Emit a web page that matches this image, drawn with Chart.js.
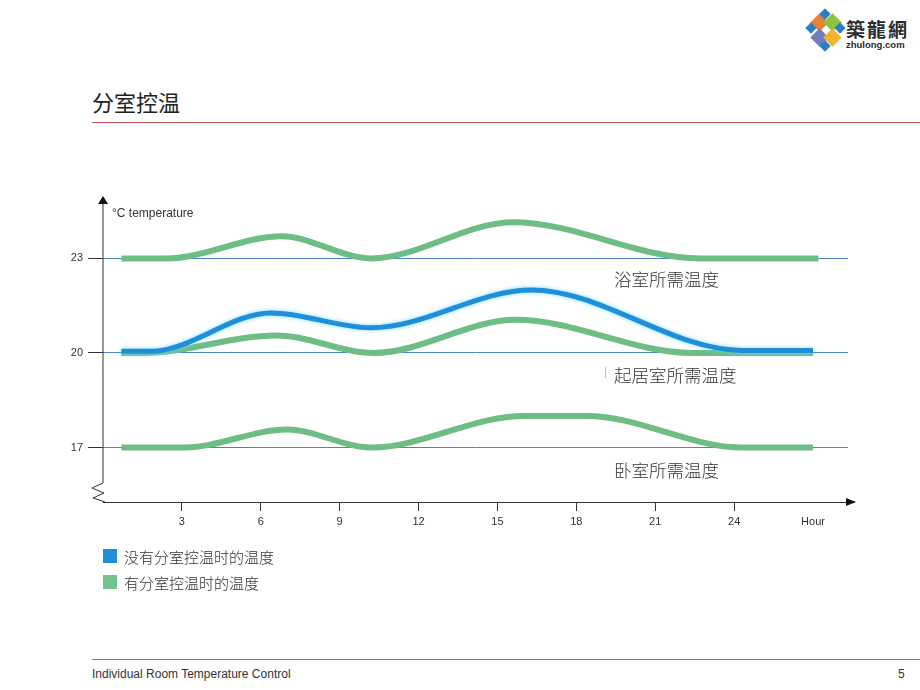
<!DOCTYPE html>
<html>
<head>
<meta charset="utf-8">
<script src="https://cdn.jsdelivr.net/npm/chart.js@4"></script>
<style>
  body { margin: 0; background: #fff; width: 920px; height: 690px; position: relative; overflow: hidden;
         font-family: "Liberation Sans", Arial, sans-serif; color: #333; }
  .abs { position: absolute; white-space: nowrap; }
  .cjk { font-family: "Noto Sans CJK SC", sans-serif; }
  .note { font-size: 17.5px; color: #333; font-weight: 300; line-height: 20px; }
  #chart { position: absolute; left: 0; top: 180px; }
  .rule { position: absolute; left: 92px; right: 0; height: 1px; }
  .sw { position: absolute; width: 14px; height: 14px; left: 103px; }
  .logo-tile { position: absolute; width: 13px; height: 13px; transform: rotate(45deg); }
</style>
</head>
<body>
<!-- logo -->
<div class="abs" style="left:806px;top:12px;width:40px;height:42px;">
  <div class="logo-tile" style="left:7px;top:4px;background:#e9803a;"></div>
  <div class="logo-tile" style="left:20px;top:4px;background:#8cc63f;"></div>
  <div class="logo-tile" style="left:7px;top:19px;background:#6f7fc4;"></div>
  <div class="logo-tile" style="left:20px;top:19px;background:#f2b233;"></div>
  <div class="logo-tile" style="left:1px;top:12px;width:8px;height:8px;background:#2c7fc4;"></div>
  <div class="logo-tile" style="left:30px;top:12px;width:8px;height:8px;background:#2c7fc4;"></div>
  <div class="logo-tile" style="left:15px;top:-2px;width:8px;height:8px;background:#2c7fc4;"></div>
  <div class="logo-tile" style="left:15px;top:30px;width:8px;height:8px;background:#2c7fc4;"></div>
</div>
<div class="abs cjk" style="left:846px;top:15px;font-size:19px;font-weight:bold;color:#2b2b2b;letter-spacing:2px;">築龍網</div>
<div class="abs" style="left:846px;top:39px;font-size:9.5px;font-weight:bold;color:#2b2b2b;">zhulong.com</div>

<!-- title -->
<div class="abs cjk" style="left:92px;top:85px;font-size:22px;color:#222;">分室控温</div>
<div class="rule" style="top:122px;background:#c0504d;"></div>

<canvas id="chart" width="920" height="370"></canvas>

<div class="abs" style="left:112px;top:206px;font-size:12px;color:#333;">°C temperature</div>
<div class="abs cjk note" style="left:614px;top:269px;">浴室所需温度</div>
<div class="abs" style="left:605px;top:367px;width:1px;height:11px;background:#bbb;"></div>
<div class="abs cjk note" style="left:614px;top:365px;">起居室所需温度</div>
<div class="abs cjk note" style="left:614px;top:460px;">卧室所需温度</div>

<!-- legend -->
<div class="sw" style="top:549px;background:#1e8fd8;"></div>
<div class="abs cjk" style="left:124px;top:546px;font-size:15px;color:#333;font-weight:300;">没有分室控温时的温度</div>
<div class="sw" style="top:575px;background:#72c48c;"></div>
<div class="abs cjk" style="left:124px;top:572px;font-size:15px;color:#333;font-weight:300;">有分室控温时的温度</div>

<!-- footer -->
<div class="rule" style="top:659px;background:#d9534f;"></div>
<div class="abs" style="left:92px;top:667px;font-size:12px;color:#333;">Individual Room Temperature Control</div>
<div class="abs" style="left:898px;top:667px;font-size:12px;color:#333;">5</div>

<script>
  // ---------- data ----------
  const xTickHours = [3, 6, 9, 12, 15, 18, 21, 24, 27];
  const hourLabelAt = 27;
  const yTickTemps = [17, 20, 23];

  // without room control (blue)
  const noControlHours = [0.7, 1.8, 6.4, 10.2, 16.3, 24.3, 27.0];
  const noControlTemps = [20.05, 20.05, 21.27, 20.8, 22.0, 20.08, 20.08];

  // with room control (green), one line per room
  const bathHours = [0.7, 2.4, 6.8, 10.2, 15.6, 22.7, 27.2];
  const bathTemps = [23, 23, 23.7, 23, 24.15, 23, 23];
  const livingHours = [0.7, 1.5, 6.6, 10.3, 15.7, 22.4, 27.0];
  const livingTemps = [20, 20, 20.55, 20, 21.05, 20, 20];
  const bedHours = [0.7, 3.1, 7.0, 10.2, 16.0, 18.4, 24.3, 27.0];
  const bedTemps = [17, 17, 17.57, 17, 18.0, 18.0, 17, 17];

  const BLUE = '#1e8fd8';
  const GREEN = '#6dbd85';
  const AXIS = '#333';

  const pts = (xs, ys) => xs.map((x, i) => ({ x, y: ys[i] }));

  function line(label, xs, ys, color, width) {
    return {
      label,
      data: pts(xs, ys),
      borderColor: color,
      borderWidth: width,
      pointRadius: 0,
      fill: false,
      cubicInterpolationMode: 'monotone',
      borderCapStyle: 'butt',
    };
  }

  // y axis with break + arrow heads, placed from the scales
  const axisDecor = {
    id: 'axisDecor',
    beforeDatasetDraw(chart, args) {
      if (args.index === 0) {
        chart.ctx.save();
        chart.ctx.shadowColor = 'rgba(110,215,255,0.9)';
        chart.ctx.shadowBlur = 4;
      }
    },
    afterDatasetDraw(chart, args) {
      if (args.index === 0) chart.ctx.restore();
    },
    afterDraw(chart) {
      const { ctx, scales: { x, y } } = chart;
      const x0 = x.getPixelForValue(0);
      const top = y.top;
      const bot = y.bottom;
      ctx.save();
      ctx.strokeStyle = AXIS;
      ctx.fillStyle = '#111';
      ctx.lineWidth = 1;
      ctx.beginPath();
      ctx.moveTo(x0, top + 4);
      ctx.lineTo(x0, bot - 19);
      ctx.lineTo(x0 - 11, bot - 14);
      ctx.lineTo(x0 + 1, bot - 9);
      ctx.lineTo(x0 - 10, bot - 4);
      ctx.lineTo(x0 + 2, bot);
      ctx.stroke();
      // top arrow
      ctx.beginPath();
      ctx.moveTo(x0, top);
      ctx.lineTo(x0 - 5, top + 8);
      ctx.lineTo(x0 + 5, top + 8);
      ctx.closePath();
      ctx.fill();
      // right arrow
      const xr = x.right;
      ctx.beginPath();
      ctx.moveTo(xr - 2, bot);
      ctx.lineTo(xr + 7, bot);
      ctx.stroke();
      ctx.beginPath();
      ctx.moveTo(xr + 8, bot);
      ctx.lineTo(xr - 2, bot - 4);
      ctx.lineTo(xr - 2, bot + 4);
      ctx.closePath();
      ctx.fill();
      ctx.restore();
    },
  };

  Chart.defaults.font.family = '"Liberation Sans", Arial, sans-serif';
  Chart.defaults.color = AXIS;

  new Chart(document.getElementById('chart'), {
    type: 'line',
    data: {
      datasets: [
        line('没有分室控温时的温度', noControlHours, noControlTemps, BLUE, 5),
        line('浴室', bathHours, bathTemps, GREEN, 6),
        line('起居室', livingHours, livingTemps, GREEN, 6),
        line('卧室', bedHours, bedTemps, GREEN, 6),
      ],
    },
    options: {
      responsive: false,
      animation: false,
      devicePixelRatio: 1,
      layout: { padding: { left: 40, right: 72, top: 16, bottom: 18 } },
      plugins: { legend: { display: false }, tooltip: { enabled: false } },
      scales: {
        x: {
          type: 'linear',
          min: 0,
          max: 28.33,
          afterBuildTicks: (s) => { s.ticks = xTickHours.map(v => ({ value: v })); },
          afterFit: (s) => { s.height = 30; },
          ticks: {
            font: { size: 11 },
            padding: 4,
            maxRotation: 0,
            callback: (v) => (v === hourLabelAt ? 'Hour' : String(v)),
          },
          grid: {
            drawOnChartArea: false,
            drawTicks: true,
            tickLength: 9,
            tickColor: (c) => (c.tick && c.tick.value === hourLabelAt ? 'rgba(0,0,0,0)' : AXIS),
          },
          border: { display: true, color: AXIS, width: 1 },
        },
        y: {
          type: 'linear',
          min: 15.27,
          max: 24.98,
          afterBuildTicks: (s) => { s.ticks = yTickTemps.map(v => ({ value: v })); },
          afterFit: (s) => { s.width = 63; },
          ticks: { font: { size: 11 }, padding: 5 },
          grid: {
            drawOnChartArea: true,
            drawTicks: true,
            tickLength: 15,
            color: '#4a86c5',
            tickColor: AXIS,
            lineWidth: 1,
          },
          border: { display: false },
        },
      },
    },
    plugins: [axisDecor],
  });
</script>
</body>
</html>
